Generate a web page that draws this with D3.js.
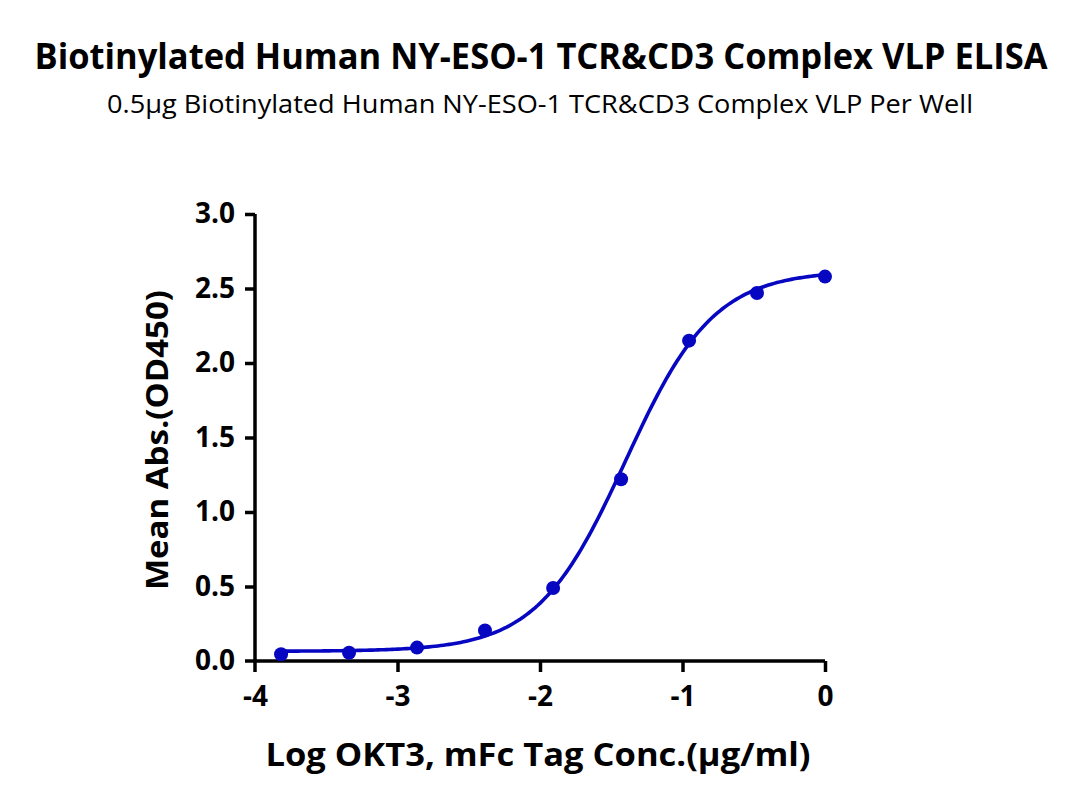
<!DOCTYPE html>
<html>
<head>
<meta charset="utf-8">
<script src="https://cdn.jsdelivr.net/npm/d3@7"></script>
<style>
  html, body { margin: 0; padding: 0; background: #fff; }
  svg { display: block; }
</style>
</head>
<body>
<div id="chart"></div>
<script>
// data: log10 concentration (3-fold dilution from 1 µg/ml) vs OD450
const logConc = [-3.817, -3.340, -2.863, -2.386, -1.908, -1.431, -0.954, -0.477, 0];
const meanAbs = [0.045, 0.055, 0.09, 0.205, 0.49, 1.22, 2.15, 2.47, 2.58];
const xTicks = [-4, -3, -2, -1, 0];
const yTicks = [0, 0.5, 1.0, 1.5, 2.0, 2.5, 3.0];

// 4PL fit estimated from the drawn curve
const fitBottom = 0.065, fitTop = 2.62, fitLogEC50 = -1.40, fitHill = 1.4;

const W = 1080, H = 809;
const BLUE = "#0707C2";
const FONT = "'Open Sans', 'Noto Sans', sans-serif";

const svg = d3.select("#chart").append("svg").attr("width", W).attr("height", H);

const x = d3.scaleLinear().domain([-4, 0]).range([255, 825]);
const y = d3.scaleLinear().domain([0, 3]).range([661, 214]);

// titles
svg.append("text").attr("x", 541).attr("y", 69)
  .attr("text-anchor", "middle").style("font-family", FONT)
  .style("font-weight", "bold").style("font-size", "35px")
  .attr("textLength", 1013).attr("lengthAdjust", "spacingAndGlyphs")
  .text("Biotinylated Human NY-ESO-1 TCR&CD3 Complex VLP ELISA");

svg.append("text").attr("x", 540).attr("y", 113)
  .attr("text-anchor", "middle").style("font-family", FONT)
  .style("font-size", "25px")
  .attr("textLength", 866).attr("lengthAdjust", "spacingAndGlyphs")
  .text("0.5μg Biotinylated Human NY-ESO-1 TCR&CD3 Complex VLP Per Well");

// axes
const yAxis = svg.append("g").attr("transform", `translate(${x(-4)},0)`)
  .call(d3.axisLeft(y).tickValues(yTicks).tickFormat(d3.format(".1f")).tickSize(10).tickSizeOuter(0).tickPadding(10));
const xAxis = svg.append("g").attr("transform", `translate(0,${y(0)})`)
  .call(d3.axisBottom(x).tickValues(xTicks).tickFormat(d => d < 0 ? "-" + Math.abs(d) : d).tickSize(11).tickSizeOuter(0).tickPadding(14));

[xAxis, yAxis].forEach(a => {
  a.select(".domain").attr("stroke", "#000").attr("stroke-width", 3.5);
  a.selectAll(".tick line").attr("stroke", "#000").attr("stroke-width", 3.5);
  a.selectAll(".tick text").attr("fill", "#000")
    .style("font-family", FONT).style("font-weight", "bold").style("font-size", "28px");
});
// extend axis lines past the origin like the original
yAxis.select(".domain").attr("d", `M0,${y(3)}V${y(0) + 11}`);
xAxis.select(".domain").attr("d", `M${x(-4) - 10},0H${x(0)}`);
yAxis.selectAll(".tick").filter(d => d === 0).select("line").remove();
xAxis.selectAll(".tick").filter(d => d === -4).select("line").remove();

// axis titles
svg.append("text").attr("transform", `translate(168,440) rotate(-90)`)
  .attr("text-anchor", "middle").style("font-family", FONT)
  .style("font-weight", "bold").style("font-size", "31px")
  .attr("textLength", 300).attr("lengthAdjust", "spacingAndGlyphs")
  .text("Mean Abs.(OD450)");

svg.append("text").attr("x", 538).attr("y", 766)
  .attr("text-anchor", "middle").style("font-family", FONT)
  .style("font-weight", "bold").style("font-size", "33px")
  .attr("textLength", 545).attr("lengthAdjust", "spacingAndGlyphs")
  .text("Log OKT3, mFc Tag Conc.(μg/ml)");

// fitted curve
const fit = v => fitBottom + (fitTop - fitBottom) / (1 + Math.pow(10, (fitLogEC50 - v) * fitHill));
const curveX = d3.range(logConc[0], 0.0001, 0.02);
svg.append("path")
  .datum(curveX)
  .attr("fill", "none").attr("stroke", BLUE).attr("stroke-width", 3.6)
  .attr("d", d3.line().x(d => x(d)).y(d => y(fit(d))));

// points
svg.append("g").selectAll("circle")
  .data(logConc.map((c, i) => ({ c, v: meanAbs[i] })))
  .join("circle")
  .attr("cx", d => x(d.c)).attr("cy", d => y(d.v)).attr("r", 7)
  .attr("fill", BLUE);
</script>
</body>
</html>
